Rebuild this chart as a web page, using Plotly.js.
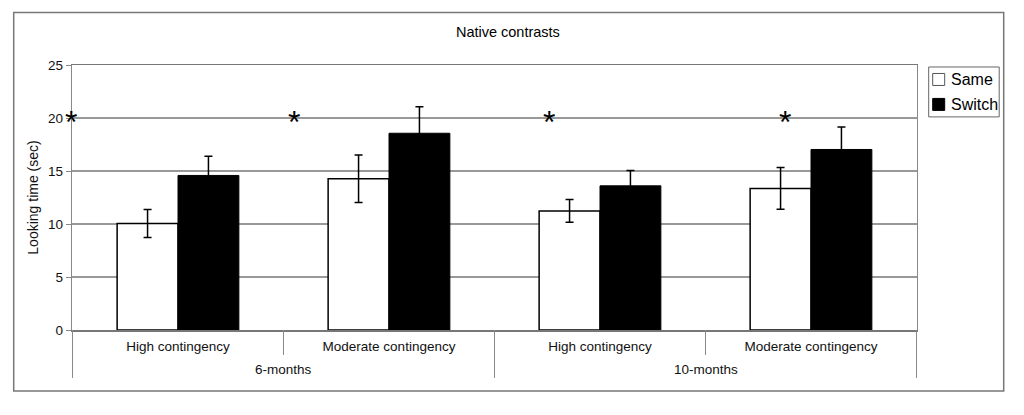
<!DOCTYPE html>
<html>
<head>
<meta charset="utf-8">
<script src="https://cdn.plot.ly/plotly-3.0.1.min.js"></script>
<style>html,body{margin:0;padding:0;background:#fff;}#chart{width:1024px;height:415px;}</style>
</head>
<body>
<div id="chart"></div>
<script>
const ageGroups = ["6-months", "6-months", "10-months", "10-months"];
const contingency = ["High contingency", "Moderate contingency", "High contingency", "Moderate contingency"];
const sameValues = [10.05, 14.27, 11.23, 13.36];
const sameErrors = [1.32, 2.25, 1.07, 1.97];
const switchValues = [14.58, 18.56, 13.60, 17.03];
const switchErrors = [1.82, 2.51, 1.45, 2.13];
const yTicks = [0, 5, 10, 15, 20, 25];
const seriesNames = ["Same", "Switch"];

const FONT = "Liberation Sans, Arial, sans-serif";
const xKeys = ageGroups.map((g, i) => g + " | " + contingency[i]);

const traces = [
  {
    type: "bar", name: seriesNames[0], x: xKeys, y: sameValues,
    marker: {color: "#ffffff", line: {color: "#000000", width: 1.5}},
    error_y: {type: "data", array: sameErrors, visible: true, color: "#000000", thickness: 1.5, width: 4}
  },
  {
    type: "bar", name: seriesNames[1], x: xKeys, y: switchValues,
    marker: {color: "#000000", line: {color: "#000000", width: 1}},
    error_y: {type: "data", array: switchErrors, visible: true, color: "#000000", thickness: 1.5, width: 4}
  }
];

function px2paperX(px) { return (px - 72.3) / 845; }
function px2paperY(py) { return (330 - py) / 265.5; }

const starX = [63, 286, 549, 793];
const annotations = starX.map(px => ({
  xref: "paper", yref: "y", x: px2paperX(px), y: 20, text: "*",
  showarrow: false, font: {family: FONT, size: 32, color: "#000"}, yshift: -4
}));

// outer group labels (age groups), centred under their categories
const groupNames = [...new Set(ageGroups)];
groupNames.forEach(g => {
  const idx = ageGroups.map((a, i) => a === g ? i : -1).filter(i => i >= 0);
  const mid = (idx[0] + idx[idx.length - 1]) / 2;
  annotations.push({
    xref: "x", yref: "paper", x: mid, y: px2paperY(370), yanchor: "middle",
    text: g, showarrow: false, font: {family: FONT, size: 13.5, color: "#111"}
  });
});

// custom legend (text)
annotations.push(
  {xref: "paper", yref: "paper", x: px2paperX(949), y: px2paperY(79), xanchor: "left", yanchor: "middle",
   text: seriesNames[0], showarrow: false, font: {family: FONT, size: 16, color: "#000"}},
  {xref: "paper", yref: "paper", x: px2paperX(949), y: px2paperY(104), xanchor: "left", yanchor: "middle",
   text: seriesNames[1], showarrow: false, font: {family: FONT, size: 16, color: "#000"}}
);

const shapes = [
  {type: "rect", xref: "paper", yref: "paper",
   x0: px2paperX(14), x1: px2paperX(1004), y0: px2paperY(391), y1: px2paperY(12),
   line: {color: "#777", width: 1.5}, fillcolor: "rgba(0,0,0,0)", layer: "below"},
  // legend box
  {type: "rect", xref: "paper", yref: "paper",
   x0: px2paperX(929), x1: px2paperX(999.5), y0: px2paperY(116.5), y1: px2paperY(66.5),
   line: {color: "#666", width: 1}, fillcolor: "#ffffff"},
  {type: "rect", xref: "paper", yref: "paper",
   x0: px2paperX(933), x1: px2paperX(945), y0: px2paperY(85), y1: px2paperY(73),
   line: {color: "#555", width: 1}, fillcolor: "#ffffff"},
  {type: "rect", xref: "paper", yref: "paper",
   x0: px2paperX(933), x1: px2paperX(945), y0: px2paperY(110), y1: px2paperY(98),
   line: {color: "#000", width: 1}, fillcolor: "#000000"}
];

// category dividers: long ones at group edges, short ones between inner categories
for (let b = 0; b <= ageGroups.length; b++) {
  const isGroupEdge = b === 0 || b === ageGroups.length || ageGroups[b] !== ageGroups[b - 1];
  shapes.push({
    type: "line", xref: "x", yref: "paper", x0: b - 0.5, x1: b - 0.5,
    y0: 0, y1: px2paperY(isGroupEdge ? 378 : 355),
    line: {color: "#888", width: 1}
  });
}

const layout = {
  width: 1024, height: 415,
  margin: {l: 72.3, r: 106.7, t: 64.5, b: 85, autoexpand: false},
  paper_bgcolor: "#ffffff", plot_bgcolor: "#ffffff",
  font: {family: FONT, size: 13.5, color: "#111"},
  title: {text: "Native contrasts", font: {family: FONT, size: 14.5, color: "#000"},
          x: 0.496, xref: "container", y: 1 - 32/415, yref: "container", yanchor: "middle"},
  barmode: "group", bargap: 0.423, bargroupgap: 0,
  showlegend: false,
  xaxis: {
    type: "category", tickmode: "array", tickvals: xKeys, ticktext: contingency,
    showline: true, linecolor: "#777", linewidth: 1.5, mirror: true,
    ticks: "", ticklabelstandoff: 3,
    tickfont: {family: FONT, size: 13.5, color: "#111"}, showgrid: false, zeroline: false
  },
  yaxis: {
    range: [0, 25], tickvals: yTicks, ticktext: yTicks.map(String),
    showgrid: true, gridcolor: "#999", gridwidth: 1.2,
    showline: true, linecolor: "#888", linewidth: 1.2, mirror: true,
    ticks: "outside", ticklen: 5, tickcolor: "#888",
    zeroline: false, automargin: true,
    tickfont: {family: FONT, size: 13.5, color: "#111"},
    title: {text: "Looking time (sec)", standoff: 6, font: {family: FONT, size: 14, color: "#111"}}
  },
  annotations: annotations,
  shapes: shapes
};

Plotly.newPlot("chart", traces, layout, {displayModeBar: false, staticPlot: true});
</script>
</body>
</html>
